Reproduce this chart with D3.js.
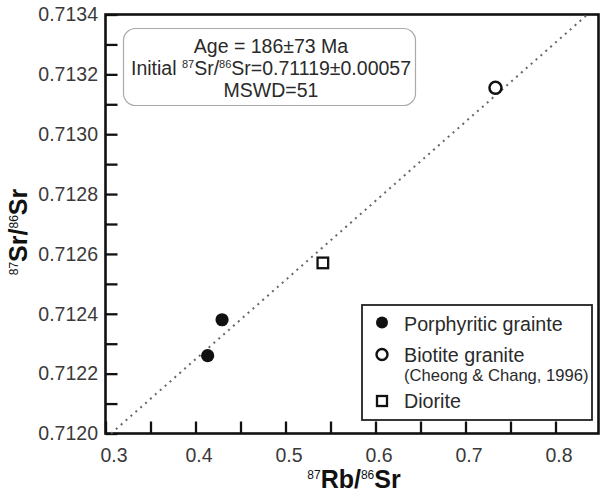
<!DOCTYPE html>
<html>
<head>
<meta charset="utf-8">
<script src="https://cdn.jsdelivr.net/npm/d3@7"></script>
<style>
  body { margin: 0; background: #fff; }
  svg { display: block; font-family: "Liberation Sans", Arial, sans-serif; }
</style>
</head>
<body>
<svg id="chart" width="601" height="497"></svg>
<script>
// data
var porphyriticX = [0.4135, 0.4295];
var porphyriticY = [0.71226, 0.71238];
var biotiteX = [0.7333];
var biotiteY = [0.713155];
var dioriteX = [0.5415];
var dioriteY = [0.71257];

// isochron end points
var isochronX = [0.3062, 0.8355];
var isochronY = [0.7120, 0.7134];

var xMajorTicks = [0.3, 0.4, 0.5, 0.6, 0.7, 0.8];
var xMinorTicks = [0.35, 0.45, 0.55, 0.65, 0.75];
var yMajorTicks = [0.7120, 0.7122, 0.7124, 0.7126, 0.7128, 0.7130, 0.7132, 0.7134];
var yMinorTicks = [0.7121, 0.7123, 0.7125, 0.7127, 0.7129, 0.7131, 0.7133];

var infoLines = ["Age = 186\u00b173 Ma", "Initial", "MSWD=51"];
var legendLabels = ["Porphyritic grainte", "Biotite granite", "(Cheong & Chang, 1996)", "Diorite"];

var margin = {left: 105.5, top: 14.5, right: 2.5, bottom: 63.5};
var width = 601 - margin.left - margin.right;
var height = 497 - margin.top - margin.bottom;

var svg = d3.select('#chart');
var main = svg.append('g')
    .attr('transform', 'translate(' + margin.left + ',' + margin.top + ')');

var xScale = d3.scaleLinear().domain([0.3, 0.3 + width / 900]).range([0, width]);
var yScale = d3.scaleLinear().domain([0.7120, 0.7134]).range([height, 0]);

function isMajor(list, v) {
    return list.some(function (m) { return Math.abs(m - v) < 1e-9; });
}

var xAxis = d3.axisBottom(xScale)
    .tickValues(xMajorTicks.concat(xMinorTicks))
    .tickSize(-12)
    .tickSizeOuter(0)
    .tickPadding(14.5)
    .tickFormat(function (d) { return isMajor(xMajorTicks, d) ? d3.format('.1f')(d) : ''; });

var yAxis = d3.axisLeft(yScale)
    .tickValues(yMajorTicks.concat(yMinorTicks))
    .tickSize(-12)
    .tickSizeOuter(0)
    .tickPadding(7.5)
    .tickFormat(function (d) { return isMajor(yMajorTicks, d) ? d3.format('.4f')(d) : ''; });

var gx = main.append('g')
    .attr('transform', 'translate(0,' + height + ')')
    .call(xAxis);
var gy = main.append('g').call(yAxis);

[gx, gy].forEach(function (g) {
    g.select('.domain').remove();
    g.selectAll('.tick line').attr('stroke', '#111').attr('stroke-width', 2.3);
    g.selectAll('.tick text')
        .attr('fill', '#3a3a3a')
        .style('font-size', '19.5px')
        .style('font-family', '"Liberation Sans", Arial, sans-serif');
});
gx.selectAll('.tick text').attr('dx', function (d) { return d === 0.3 ? 8 : 3; });

// frame
main.append('rect')
    .attr('x', 0).attr('y', 0)
    .attr('width', width).attr('height', height)
    .attr('fill', 'none')
    .attr('stroke', '#111')
    .attr('stroke-width', 2.6);

// isochron line
var line = d3.line()
    .x(function (d) { return xScale(d[0]); })
    .y(function (d) { return yScale(d[1]); });
main.append('path')
    .datum(d3.zip(isochronX, isochronY))
    .attr('d', line)
    .attr('fill', 'none')
    .attr('stroke', '#666')
    .attr('stroke-width', 2)
    .attr('stroke-dasharray', '2,4.5');

// points
main.selectAll('.porph')
    .data(d3.zip(porphyriticX, porphyriticY))
    .enter().append('circle')
    .attr('cx', function (d) { return xScale(d[0]); })
    .attr('cy', function (d) { return yScale(d[1]); })
    .attr('r', 6.6)
    .attr('fill', '#111');

main.selectAll('.biot')
    .data(d3.zip(biotiteX, biotiteY))
    .enter().append('circle')
    .attr('cx', function (d) { return xScale(d[0]); })
    .attr('cy', function (d) { return yScale(d[1]); })
    .attr('r', 6)
    .attr('fill', '#fff')
    .attr('stroke', '#111')
    .attr('stroke-width', 2.5);

main.selectAll('.dior')
    .data(d3.zip(dioriteX, dioriteY))
    .enter().append('rect')
    .attr('x', function (d) { return xScale(d[0]) - 5.3; })
    .attr('y', function (d) { return yScale(d[1]) - 5.3; })
    .attr('width', 10.6)
    .attr('height', 10.6)
    .attr('fill', '#fff')
    .attr('stroke', '#111')
    .attr('stroke-width', 2.3);

// info box
svg.append('rect')
    .attr('x', 123.5).attr('y', 28.5)
    .attr('width', 292).attr('height', 77)
    .attr('rx', 12).attr('ry', 12)
    .attr('fill', '#fff')
    .attr('stroke', '#aaa')
    .attr('stroke-width', 1.2);

var info = svg.append('g')
    .attr('fill', '#2a2a2a')
    .style('font-size', '19.5px')
    .attr('text-anchor', 'middle');
info.append('text').attr('x', 271).attr('y', 53).text(infoLines[0]);
var l2 = info.append('text').attr('x', 271).attr('y', 75);
l2.append('tspan').text(infoLines[1] + ' ');
l2.append('tspan').attr('dy', -7).style('font-size', '11px').text('87');
l2.append('tspan').attr('dy', 7).text('Sr/');
l2.append('tspan').attr('dy', -7).style('font-size', '11px').text('86');
l2.append('tspan').attr('dy', 7).text('Sr=0.71119\u00b10.00057');
info.append('text').attr('x', 271).attr('y', 97).text(infoLines[2]);

// legend
var lg = svg.append('g');
lg.append('rect')
    .attr('x', 362).attr('y', 305)
    .attr('width', 230).attr('height', 115)
    .attr('fill', '#fff')
    .attr('stroke', '#222')
    .attr('stroke-width', 1.8);
lg.append('circle').attr('cx', 382).attr('cy', 322.5).attr('r', 6).attr('fill', '#111');
lg.append('circle').attr('cx', 382).attr('cy', 354.5).attr('r', 5.5)
    .attr('fill', '#fff').attr('stroke', '#111').attr('stroke-width', 2.4);
lg.append('rect').attr('x', 377).attr('y', 396).attr('width', 10).attr('height', 10)
    .attr('fill', '#fff').attr('stroke', '#111').attr('stroke-width', 2.3);
var legY = [331, 362, 381, 408];
var legSize = ['19.7px', '19.7px', '16.6px', '19.7px'];
lg.selectAll('.lt')
    .data(legendLabels)
    .enter().append('text')
    .attr('x', 404)
    .attr('y', function (d, i) { return legY[i]; })
    .attr('fill', '#2a2a2a')
    .style('font-size', function (d, i) { return legSize[i]; })
    .text(function (d) { return d; });

// axis titles
var xt = svg.append('text')
    .attr('x', 354).attr('y', 488)
    .attr('text-anchor', 'middle')
    .attr('fill', '#111')
    .style('font-weight', 'bold')
    .style('font-size', '25px');
xt.append('tspan').attr('dy', -9).style('font-size', '12px').style('font-weight', 'normal').text('87');
xt.append('tspan').attr('dy', 9).text('Rb/');
xt.append('tspan').attr('dy', -9).style('font-size', '12px').style('font-weight', 'normal').text('86');
xt.append('tspan').attr('dy', 9).text('Sr');

var yt = svg.append('text')
    .attr('transform', 'translate(27,232) rotate(-90)')
    .attr('text-anchor', 'middle')
    .attr('fill', '#111')
    .style('font-weight', 'bold')
    .style('font-size', '25px');
yt.append('tspan').attr('dy', -9).style('font-size', '12px').style('font-weight', 'normal').text('87');
yt.append('tspan').attr('dy', 9).text('Sr/');
yt.append('tspan').attr('dy', -9).style('font-size', '12px').style('font-weight', 'normal').text('86');
yt.append('tspan').attr('dy', 9).text('Sr');
</script>
</body>
</html>
